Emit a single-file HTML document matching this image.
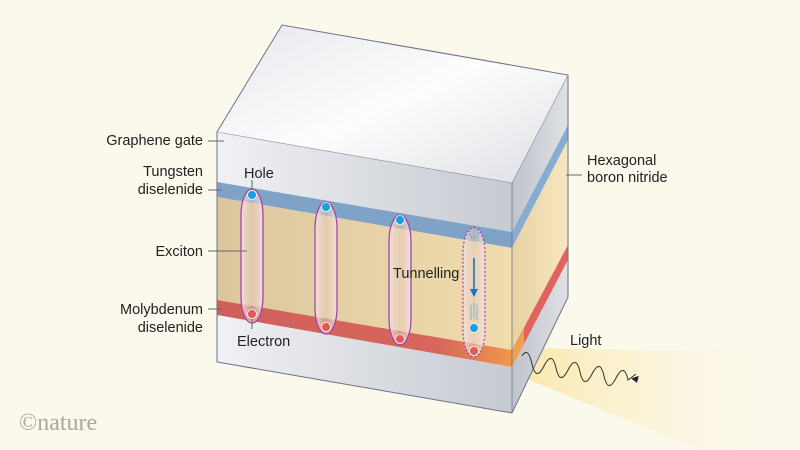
<!DOCTYPE html>
<html><head><meta charset="utf-8"><style>
html,body{margin:0;padding:0;background:#fbf8ec;}
svg{display:block}
text{font-family:"Liberation Sans",sans-serif;font-size:14.5px;fill:#222;}
</style></head><body>
<svg width="800" height="450" viewBox="0 0 800 450" xmlns="http://www.w3.org/2000/svg">
<defs>
<linearGradient id="top" x1="0" y1="0" x2="1" y2="1"><stop offset="0" stop-color="#e4e7ec"/><stop offset="0.5" stop-color="#fdfdfd"/><stop offset="1" stop-color="#dcdfe4"/></linearGradient>
<linearGradient id="front" x1="0" y1="0" x2="1" y2="0"><stop offset="0" stop-color="#f0f1f4"/><stop offset="1" stop-color="#c6cad1"/></linearGradient>
<linearGradient id="side" x1="0" y1="0" x2="1" y2="0"><stop offset="0" stop-color="#bfc3ca"/><stop offset="1" stop-color="#dfe1e5"/></linearGradient>
<linearGradient id="yel" x1="0" y1="0" x2="1" y2="0"><stop offset="0" stop-color="#dcc69e"/><stop offset="1" stop-color="#f1dcae"/></linearGradient>
<linearGradient id="yside" x1="0" y1="0" x2="1" y2="0"><stop offset="0" stop-color="#e8d2a3"/><stop offset="1" stop-color="#f7e6bf"/></linearGradient>
<linearGradient id="red" x1="0" y1="0" x2="1" y2="0"><stop offset="0" stop-color="#cf5f5a"/><stop offset="0.75" stop-color="#d8665c"/><stop offset="1" stop-color="#f0974a"/></linearGradient>
<linearGradient id="beam" x1="0" y1="0" x2="1" y2="0"><stop offset="0" stop-color="#fbe49a" stop-opacity="0.9"/><stop offset="1" stop-color="#fbf8ec" stop-opacity="0"/></linearGradient>
<linearGradient id="exc" x1="0" y1="0" x2="1" y2="0"><stop offset="0" stop-color="#f4e2e4" stop-opacity="0.85"/><stop offset="0.5" stop-color="#e2c8b6" stop-opacity="0.5"/><stop offset="1" stop-color="#f4e2e4" stop-opacity="0.85"/></linearGradient>
</defs>
<polygon points="505,348 800,352 800,450 700,450 505,370" fill="url(#beam)"/>
<polygon points="217,132 282,25 568,75 512,183" fill="url(#top)"/>
<polygon points="217,132 512,183 512,232 217,182" fill="url(#front)"/>
<polygon points="217,182 512,232 512,248 217,197" fill="#7ea3c6"/>
<polygon points="217,197 512,248 512,350 217,300" fill="url(#yel)"/>
<polygon points="217,300 512,350 512,367 217,315" fill="url(#red)"/>
<polygon points="217,315 512,367 512,413 217,362" fill="url(#front)"/>
<polygon points="512,183 568,75 568,125 512,232" fill="url(#side)"/>
<polygon points="512,232 568,125 568,140 512,248" fill="#86acd2"/>
<polygon points="512,248 568,140 568,245 512,350" fill="url(#yside)"/>
<polygon points="512,350 568,245 568,260 512,367" fill="#e0645e"/>
<polygon points="512,350 524,328 524,345 512,367" fill="#eea050"/>
<polygon points="512,367 568,260 568,297 512,413" fill="url(#side)"/>
<polygon points="217,132 282,25 568,75 568,297 512,413 217,362" fill="none" stroke="#6f6f88" stroke-width="1"/>
<polyline points="217,132 512,183 568,75" fill="none" stroke="#8a8aa0" stroke-width="0.6"/>
<line x1="512" y1="183" x2="512" y2="413" stroke="#6f6f88" stroke-width="0.8"/>
<g stroke="#a04aa8" stroke-width="1.3" fill="url(#exc)">
<rect x="241" y="189" width="22" height="134" rx="11" ry="26"/>
<rect x="315" y="202" width="22" height="132" rx="11" ry="26"/>
<rect x="389" y="215" width="22" height="130" rx="11" ry="26"/>
<rect x="463" y="227" width="22" height="130" rx="11" ry="26" stroke-dasharray="2,2"/>
</g>
<g fill="#1aa0e0" stroke="#ffffff" stroke-width="0.8">
<circle cx="252" cy="195" r="4.5"/><circle cx="326" cy="207" r="4.5"/><circle cx="400" cy="220" r="4.5"/><circle cx="474" cy="328" r="4.5"/>
</g>
<circle cx="474" cy="233" r="4.5" fill="none" stroke="#5b8fd0" stroke-dasharray="1.5,1.5"/>
<g fill="#e35a5a" stroke="#ffffff" stroke-width="0.8">
<circle cx="252" cy="314" r="4.5"/><circle cx="326" cy="327" r="4.5"/><circle cx="400" cy="339" r="4.5"/><circle cx="474" cy="351" r="4.5"/>
</g>
<line x1="474" y1="258" x2="474" y2="290" stroke="#1b75c0" stroke-width="1.6"/>
<polygon points="470,289 478,289 474,297" fill="#1b75c0"/>
<g stroke="#6aa8d8" stroke-width="0.8"><line x1="471" y1="305" x2="471" y2="320"/><line x1="474" y1="302" x2="474" y2="318"/><line x1="477" y1="305" x2="477" y2="320"/></g>
<path d="M522,356 q6,-10 10,8 t12,2 t12,2 t12,2 t12,2 t12,2 t12,2 t12,2 t12,2 l8,-6" fill="none" stroke="#333" stroke-width="1"/>
<polygon points="640,377 632,377 636,383" fill="#222" transform="rotate(-20 636 380)"/>
<g stroke="#666" stroke-width="1">
<line x1="208" y1="141" x2="224" y2="141"/>
<line x1="208" y1="190" x2="222" y2="190"/>
<line x1="208" y1="251" x2="247" y2="251"/>
<line x1="208" y1="309" x2="222" y2="309"/>
<line x1="566" y1="175" x2="582" y2="175"/>
<line x1="252" y1="180" x2="252" y2="190"/>
<line x1="252" y1="319" x2="252" y2="329"/>
</g>
<g text-anchor="end">
<text x="203" y="145">Graphene gate</text>
<text x="203" y="176">Tungsten</text>
<text x="203" y="194">diselenide</text>
<text x="203" y="256">Exciton</text>
<text x="203" y="314">Molybdenum</text>
<text x="203" y="332">diselenide</text>
</g>
<text x="587" y="165">Hexagonal</text>
<text x="587" y="182">boron nitride</text>
<text x="244" y="178">Hole</text>
<text x="237" y="346">Electron</text>
<text x="393" y="278">Tunnelling</text>
<text x="570" y="345">Light</text>
<text x="19" y="430" style="font-family:'Liberation Serif',serif;font-size:24px;fill:#a9a8a0;">©nature</text>
</svg>
</body></html>
